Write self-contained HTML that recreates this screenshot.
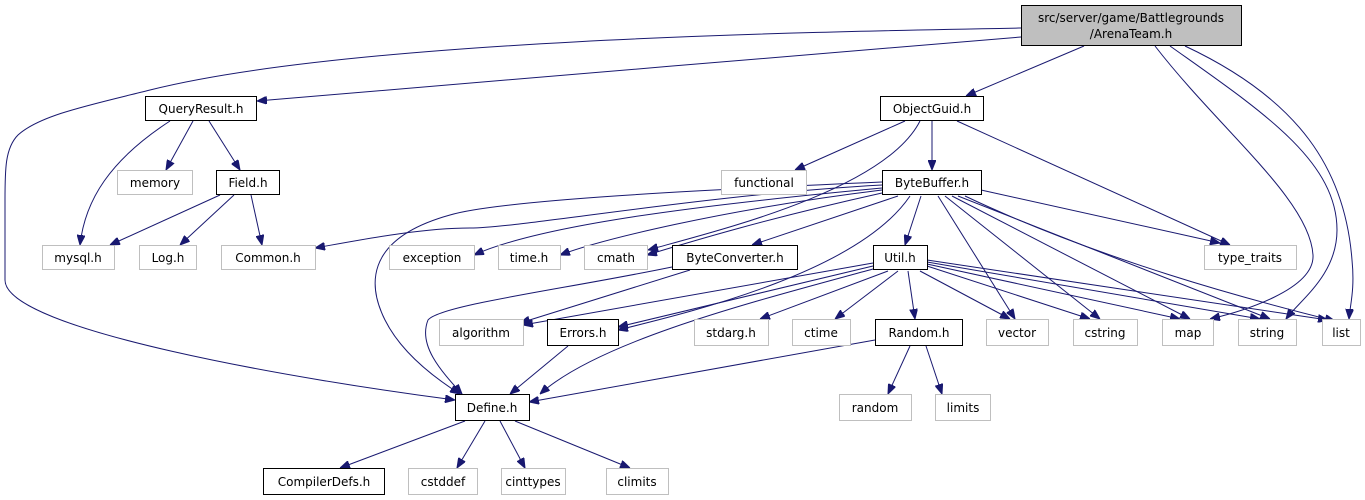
<!DOCTYPE html>
<html><head><meta charset="utf-8"><style>
html,body{margin:0;padding:0;background:#fff;}
svg{display:block;}
text{font-family:"DejaVu Sans","Liberation Sans",sans-serif;font-size:12px;fill:#000;text-anchor:middle;}
.b{fill:#fff;stroke:#000;stroke-width:1;}
.g{fill:#fff;stroke:#bfbfbf;stroke-width:1;}
.e{fill:none;stroke:#191970;stroke-width:1;marker-end:url(#a);}
</style></head><body>
<svg width="1365" height="500" viewBox="0 0 1365 500" xmlns="http://www.w3.org/2000/svg">
<defs><marker id="a" viewBox="0 0 10 8" refX="10" refY="4" markerWidth="10" markerHeight="8" markerUnits="userSpaceOnUse" orient="auto"><path d="M0,0 L10,4 L0,8 z" fill="#191970" stroke="#191970"/></marker></defs>

<!-- edges -->
<path class="e" d="M1021,28 C800,32 350,40 150,90 C90,105 40,115 18,135 C5,148 5,170 5,200 L5,280 C5,330 300,380 455,400"/>
<path class="e" d="M1021,37 C800,55 450,85 257,101"/>
<path class="e" d="M1084,46 L966,96"/>
<path class="e" d="M1155,46 C1220,130 1310,200 1313,255 C1315,290 1240,312 1210,319"/>
<path class="e" d="M1170,46 C1260,110 1337,160 1337,230 C1337,275 1300,300 1286,319"/>
<path class="e" d="M1185,46 C1300,100 1345,170 1352,260 C1355,290 1350,305 1349,319"/>

<path class="e" d="M170,121 C110,160 85,200 80,245"/>
<path class="e" d="M193,121 L166,170"/>
<path class="e" d="M209,121 L240,170"/>
<path class="e" d="M220,195 L110,245"/>
<path class="e" d="M234,195 L180,245"/>
<path class="e" d="M251,195 L262,245"/>

<path class="e" d="M905,121 L795,170"/>
<path class="e" d="M932,121 L932,170"/>
<path class="e" d="M957,121 L1230,245"/>
<path class="e" d="M920,121 C885,190 720,230 648,250"/>

<path class="e" d="M882,182 C700,190 500,200 450,215 C360,240 370,290 385,320 C400,350 430,375 460,394"/>
<path class="e" d="M882,185 C700,195 520,228 470,228 C420,228 360,240 315,248"/>
<path class="e" d="M882,188 C700,205 540,225 474,255"/>
<path class="e" d="M882,190 C720,210 600,240 560,255"/>
<path class="e" d="M882,193 C760,220 680,245 647,255"/>
<path class="e" d="M898,196 L752,245"/>
<path class="e" d="M921,196 L905,245"/>
<path class="e" d="M910,196 C860,270 700,310 618,330"/>
<path class="e" d="M938,196 L1015,319"/>
<path class="e" d="M945,196 L1100,319"/>
<path class="e" d="M952,196 L1190,319"/>
<path class="e" d="M958,196 L1270,319"/>
<path class="e" d="M965,196 C1100,260 1250,300 1335,321"/>
<path class="e" d="M981,190 L1220,243"/>

<path class="e" d="M690,270 L520,323"/>
<path class="e" d="M672,267 C560,290 440,305 428,320 C418,345 440,370 462,394"/>

<path class="e" d="M873,263 L523,325"/>
<path class="e" d="M873,266 L618,327"/>
<path class="e" d="M873,269 C760,300 600,340 540,394"/>
<path class="e" d="M888,271 L760,319"/>
<path class="e" d="M898,271 L835,319"/>
<path class="e" d="M908,271 L915,319"/>
<path class="e" d="M920,271 L1010,319"/>
<path class="e" d="M927,266 L1090,319"/>
<path class="e" d="M927,264 L1180,319"/>
<path class="e" d="M927,262 L1260,319"/>
<path class="e" d="M927,260 L1328,320"/>

<path class="e" d="M568,346 L510,394"/>
<path class="e" d="M875,340 L529,402"/>
<path class="e" d="M910,346 L888,394"/>
<path class="e" d="M926,346 L942,394"/>

<path class="e" d="M465,421 L340,468"/>
<path class="e" d="M485,421 L457,468"/>
<path class="e" d="M500,421 L525,468"/>
<path class="e" d="M515,421 L630,468"/>

<!-- nodes -->
<rect x="1021.5" y="5.5" width="220" height="40" fill="#bfbfbf" stroke="#000"/>
<text x="1131" y="22">src/server/game/Battlegrounds</text>
<text x="1131" y="38">/ArenaTeam.h</text>

<rect class="b" x="145.5" y="96.5" width="111" height="24"/><text x="201" y="113">QueryResult.h</text>
<rect class="b" x="880.5" y="96.5" width="103" height="24"/><text x="932" y="113">ObjectGuid.h</text>

<rect class="g" x="117.5" y="170.5" width="75" height="24"/><text x="155" y="187">memory</text>
<rect class="b" x="216.5" y="170.5" width="63" height="24"/><text x="248" y="187">Field.h</text>
<rect class="g" x="721.5" y="170.5" width="85" height="24"/><text x="764" y="187">functional</text>
<rect class="b" x="882.5" y="170.5" width="99" height="24"/><text x="932" y="187">ByteBuffer.h</text>

<rect class="g" x="42.5" y="245.5" width="72" height="24"/><text x="78" y="262">mysql.h</text>
<rect class="g" x="139.5" y="245.5" width="57" height="24"/><text x="168" y="262">Log.h</text>
<rect class="g" x="221.5" y="245.5" width="94" height="24"/><text x="268" y="262">Common.h</text>
<rect class="g" x="389.5" y="245.5" width="85" height="24"/><text x="432" y="262">exception</text>
<rect class="g" x="498.5" y="245.5" width="62" height="24"/><text x="529" y="262">time.h</text>
<rect class="g" x="584.5" y="245.5" width="63" height="24"/><text x="616" y="262">cmath</text>
<rect class="b" x="672.5" y="245.5" width="125" height="24"/><text x="735" y="262">ByteConverter.h</text>
<rect class="b" x="873.5" y="245.5" width="54" height="24"/><text x="900" y="262">Util.h</text>
<rect class="g" x="1204.5" y="245.5" width="92" height="24"/><text x="1250" y="262">type_traits</text>

<rect class="g" x="439.5" y="319.5" width="84" height="26"/><text x="481" y="337">algorithm</text>
<rect class="b" x="547.5" y="319.5" width="71" height="26"/><text x="583" y="337">Errors.h</text>
<rect class="g" x="694.5" y="319.5" width="74" height="26"/><text x="731" y="337">stdarg.h</text>
<rect class="g" x="792.5" y="319.5" width="58" height="26"/><text x="821" y="337">ctime</text>
<rect class="b" x="875.5" y="319.5" width="87" height="26"/><text x="919" y="337">Random.h</text>
<rect class="g" x="986.5" y="319.5" width="62" height="26"/><text x="1017" y="337">vector</text>
<rect class="g" x="1073.5" y="319.5" width="64" height="26"/><text x="1105" y="337">cstring</text>
<rect class="g" x="1162.5" y="319.5" width="51" height="26"/><text x="1188" y="337">map</text>
<rect class="g" x="1238.5" y="319.5" width="58" height="26"/><text x="1267" y="337">string</text>
<rect class="g" x="1322.5" y="319.5" width="38" height="26"/><text x="1341" y="337">list</text>

<rect class="b" x="455.5" y="394.5" width="74" height="26"/><text x="492" y="412">Define.h</text>
<rect class="g" x="839.5" y="394.5" width="72" height="26"/><text x="875" y="412">random</text>
<rect class="g" x="935.5" y="394.5" width="55" height="26"/><text x="963" y="412">limits</text>

<rect class="b" x="263.5" y="468.5" width="121" height="26"/><text x="324" y="486">CompilerDefs.h</text>
<rect class="g" x="408.5" y="468.5" width="69" height="26"/><text x="443" y="486">cstddef</text>
<rect class="g" x="501.5" y="468.5" width="64" height="26"/><text x="533" y="486">cinttypes</text>
<rect class="g" x="606.5" y="468.5" width="62" height="26"/><text x="637" y="486">climits</text>
</svg>
</body></html>
